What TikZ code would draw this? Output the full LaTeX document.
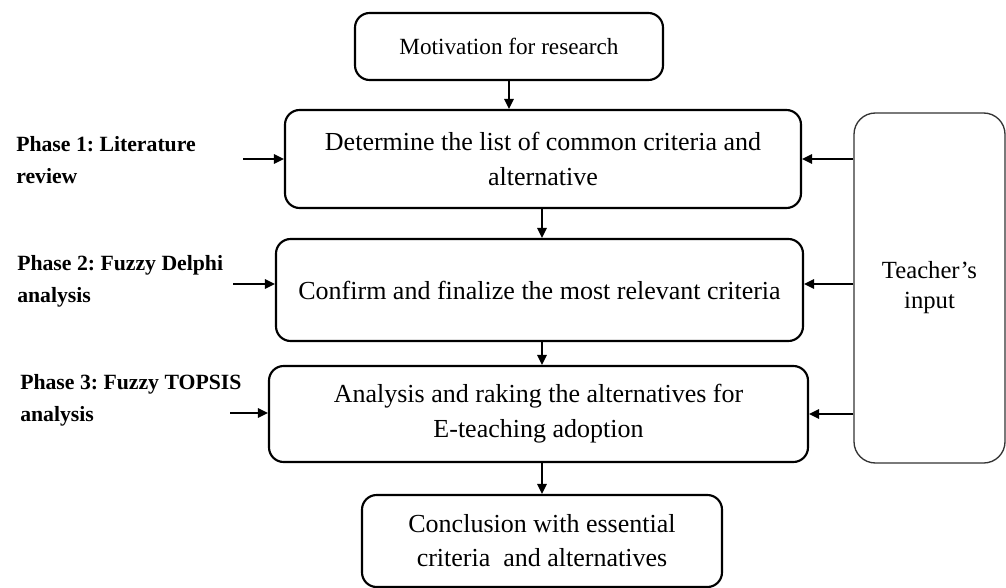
\documentclass[tikz,border=0pt]{standalone}
\usepackage{fontspec}
\setmainfont{Liberation Serif}
\usetikzlibrary{arrows.meta}
\frenchspacing
\begin{document}
\begin{tikzpicture}[x=0.75pt,y=-0.75pt,
  box/.style={draw, line width=1.6pt, rounded corners=11pt, align=center, inner sep=0pt,
    font=\fontsize{19.5}{26.25}\selectfont},
  phase/.style={anchor=west, align=left, inner sep=0pt, font=\bfseries\fontsize{16.3}{24}\selectfont},
  arr/.style={line width=1.5pt, -{Triangle[length=7.5pt,width=7pt]}}]
\useasboundingbox (0,0) rectangle (1006,588);
% main boxes
\node[box, minimum width=231pt, minimum height=50.25pt, font=\fontsize{17.4}{24}\selectfont] (mot) at (509,46.5) {Motivation for research};
\node[box, minimum width=387pt, minimum height=73.5pt] (det) at (543,159) {Determine the list of common criteria and\\alternative};
\node[box, minimum width=395.25pt, minimum height=76.5pt] (conf) at (539.5,290) {Confirm and finalize the most relevant criteria};
\node[box, minimum width=404.25pt, minimum height=72pt] (ana) at (538.5,414) {Analysis and raking the alternatives for\\E-teaching adoption};
\node[box, minimum width=270pt, minimum height=69pt, font=\fontsize{19.5}{25.5}\selectfont] (con) at (542,541) {Conclusion with essential\\criteria\ \ and alternatives};
% teacher box
\node[draw, line width=1pt, draw=black!80, rounded corners=16pt, align=center, inner sep=0pt,
  minimum width=113.25pt, minimum height=262.5pt, font=\fontsize{18.5}{22.5}\selectfont] (teach) at (929.5,288) {Teacher’s\\input};
% phase labels
\node[phase] (ph1) at (16,160.5) {Phase 1: Literature\\review};
\node[phase] (ph2) at (17,281) {Phase 2: Fuzzy Delphi\\analysis};
\node[phase] (ph3) at (20,400) {Phase 3: Fuzzy TOPSIS\\analysis};
% free ends of left arrows
\coordinate (p1) at (243,159);
\coordinate (p2) at (233,284);
\coordinate (p3) at (230,413);
% vertical arrows
\draw[arr] (mot.south) -- (mot.south |- det.north);
\draw[arr] (con.north |- det.south) -- (con.north |- conf.north);
\draw[arr] (con.north |- conf.south) -- (con.north |- ana.north);
\draw[arr] (con.north |- ana.south) -- (con.north);
% left arrows
\draw[arr] (p1) -- (p1 -| det.west);
\draw[arr] (p2) -- (p2 -| conf.west);
\draw[arr] (p3) -- (p3 -| ana.west);
% right arrows
\draw[arr] (teach.west |- det.east) -- (det.east);
\draw[arr] (teach.west |- p2) -- (p2 -| conf.east);
\draw[arr] (teach.west |- ana.east) -- (ana.east);
\end{tikzpicture}
\end{document}
